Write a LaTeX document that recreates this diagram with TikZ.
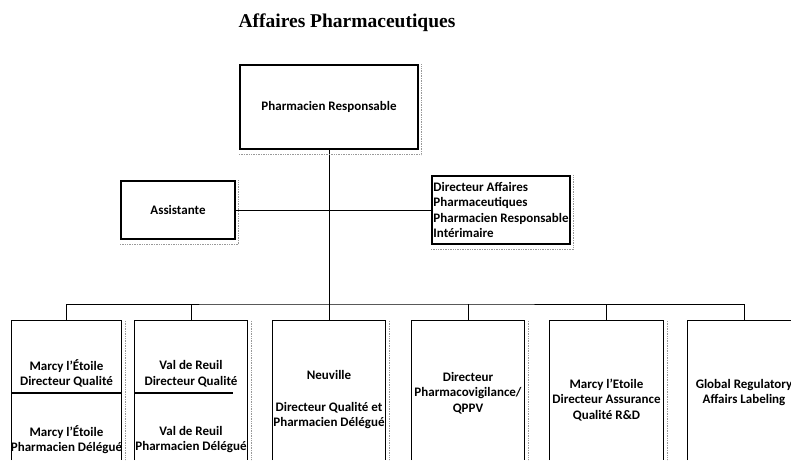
\documentclass[tikz,border=0pt]{standalone}
\usepackage{fontspec}
\setmainfont{Carlito}
\newfontfamily\titlefont{Liberation Serif}
\begin{document}
\begin{tikzpicture}[x=1pt,y=-1pt,
  box/.style={draw, line width=1.1pt, rectangle, inner sep=0pt},
  openbox/.style={rectangle, inner sep=0pt, minimum height=139pt},
  txt/.style={font=\bfseries\fontsize{13}{15.5}\selectfont, align=center, inner sep=0pt},
  link/.style={line width=1pt},
  edge/.style={line width=1.1pt},
  shadowline/.style={black!40, densely dotted, line width=0.7pt}]
\useasboundingbox (0,0) rectangle (791,460);

\node[font=\titlefont\bfseries\fontsize{19.5}{22}\selectfont] (title) at (347,23) {Affaires Pharmaceutiques};

\node[box, txt, minimum width=178pt, minimum height=84pt] (pr) at (329,107) {Pharmacien Responsable};
\node[box, txt, minimum width=114pt, minimum height=58pt] (assist) at (178,210) {Assistante};
\node[box, txt, align=left, minimum width=138pt, minimum height=68pt] (dir) at (501,210)
  {Directeur Affaires\\Pharmaceutiques\\Pharmacien Responsable\\Intérimaire};

\node[openbox, minimum width=109pt] (b1) at (66.5,390.5) {};
\node[openbox, minimum width=112pt] (b2) at (191,390.5) {};
\node[openbox, minimum width=113pt] (b3) at (329,390.5) {};
\node[openbox, minimum width=112pt] (b4) at (468,390.5) {};
\node[openbox, minimum width=113pt] (b5) at (606.5,390.5) {};
\node[openbox, minimum width=112pt] (b6) at (744,390.5) {};

\foreach \n in {b1,b2,b3,b4,b5,b6}
  \draw[edge] (\n.south west) -- (\n.north west) -- (\n.north east) -- (\n.south east);

\coordinate (d1) at (0,393);
\draw[edge] (b1.west |- d1) -- (b1.east |- d1);
\draw[edge] (b2.west |- d1) -- ([xshift=-14pt]b2.east |- d1);

\node[txt] (t1a) at (66.5,373.5) {Marcy l'Étoile\\Directeur Qualité};
\node[txt] (t1b) at (66.5,439.5) {Marcy l'Étoile\\Pharmacien Délégué};
\node[txt] (t2a) at (191,373.5) {Val de Reuil\\Directeur Qualité};
\node[txt] (t2b) at (191,439.5) {Val de Reuil\\Pharmacien Délégué};
\node[txt] (t3a) at (329,375) {Neuville};
\node[txt] (t3b) at (329,415.5) {Directeur Qualité et\\Pharmacien Délégué};
\node[txt] (t4) at (468,393) {Directeur\\Pharmacovigilance/\\QPPV};
\node[txt] (t5) at (606.5,400) {Marcy l'Etoile\\Directeur Assurance\\Qualité R\&D};
\node[txt] (t6) at (744,392.5) {Global Regulatory\\Affairs Labeling};

\coordinate (bus) at (329,304);
\draw[link] (pr.south) -- (bus);
\draw[link] (assist.east) -- (dir.west);
\draw[link] (b1.north) |- (bus) -| (b6.north);
\foreach \n in {b2,b3,b4,b5}
  \draw[link] (\n.north) -- (\n.north |- bus);

\foreach \n in {pr,assist,dir}
  \draw[shadowline] ([xshift=3pt]\n.north east) -- ([shift={(3pt,-5pt)}]\n.south east) -- ([yshift=-5pt]\n.south west);
\foreach \n in {b1,b2,b3,b4,b5}
  \draw[shadowline] ([xshift=4pt]\n.north east) -- ([xshift=4pt]\n.south east);
\end{tikzpicture}
\end{document}
